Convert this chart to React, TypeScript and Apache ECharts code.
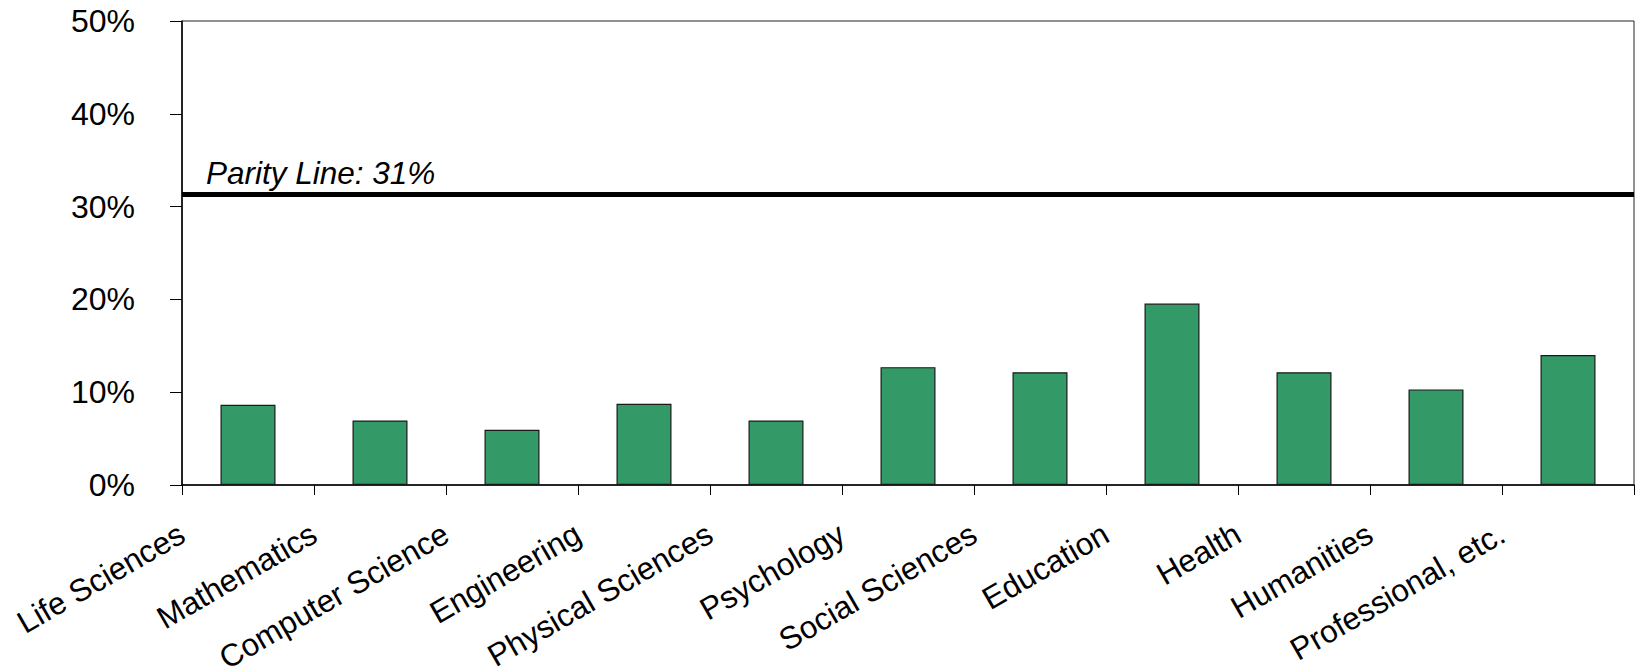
import React, { useEffect, useRef } from "react";
import * as echarts from "echarts";

const categories: string[] = [
  "Life Sciences",
  "Mathematics",
  "Computer Science",
  "Engineering",
  "Physical Sciences",
  "Psychology",
  "Social Sciences",
  "Education",
  "Health",
  "Humanities",
  "Professional, etc.",
];

const shares: number[] = [8.65, 6.95, 5.95, 8.75, 6.95, 12.7, 12.15, 19.55, 12.15, 10.3, 14.0];

const yTicks = { min: 0, max: 50, interval: 10 };

const parityValue = 31.3;
const parityLabel = "Parity Line: 31%";

const FONT = "'Liberation Sans', Arial, sans-serif";

export default function App() {
  const ref = useRef<HTMLDivElement>(null);

  useEffect(() => {
    if (!ref.current) return;
    const chart = echarts.init(ref.current, null, { renderer: "svg" });
    chart.setOption({
      animation: false,
      backgroundColor: "#ffffff",
      textStyle: { fontFamily: FONT },
      grid: {
        left: 182,
        right: 5,
        top: 21,
        bottom: 186,
        containLabel: false,
        outerBoundsMode: "none",
        show: true,
        borderColor: "#222",
        borderWidth: 1,
        backgroundColor: "transparent",
      },
      xAxis: [
        {
          type: "category",
          data: categories,
          boundaryGap: true,
          axisLine: { show: true, lineStyle: { color: "#000", width: 1.5 } },
          axisTick: { show: true, length: 10, lineStyle: { color: "#000" } },
          axisLabel: { show: false },
          splitLine: { show: false },
        },
        {
          type: "category",
          data: [...categories, ""],
          boundaryGap: false,
          position: "bottom",
          axisLine: { show: false },
          axisTick: { show: false },
          splitLine: { show: false },
          axisLabel: {
            show: true,
            interval: 0,
            rotate: 30,
            margin: 46,
            fontSize: 31.5,
            color: "#000",
            fontFamily: FONT,
          },
        },
      ],
      yAxis: {
        type: "value",
        min: yTicks.min,
        max: yTicks.max,
        interval: yTicks.interval,
        axisLine: { show: true, lineStyle: { color: "#000", width: 1.5 } },
        axisTick: { show: true, length: 12, lineStyle: { color: "#000" } },
        splitLine: { show: false },
        axisLabel: {
          formatter: "{value}%",
          fontSize: 32,
          color: "#000",
          margin: 47,
          fontFamily: FONT,
        },
      },
      series: [
        {
          type: "bar",
          xAxisIndex: 0,
          data: shares,
          barWidth: 55,
          itemStyle: { color: "#339966", borderColor: "#1a1a1a", borderWidth: 1.2 },
          markLine: {
            silent: true,
            symbol: ["none", "none"],
            lineStyle: { color: "#000", width: 5, type: "solid" },
            label: {
              show: true,
              position: "insideStartTop",
              formatter: parityLabel,
              distance: [24, 6],
              fontSize: 31.5,
              fontStyle: "italic",
              color: "#000",
              fontFamily: FONT,
            },
            data: [{ yAxis: parityValue }],
          },
        },
      ],
    });
    return () => chart.dispose();
  }, []);

  return (
    <div
      ref={ref}
      style={{ position: "absolute", left: 0, top: 0, width: 1639, height: 671 }}
    />
  );
}
